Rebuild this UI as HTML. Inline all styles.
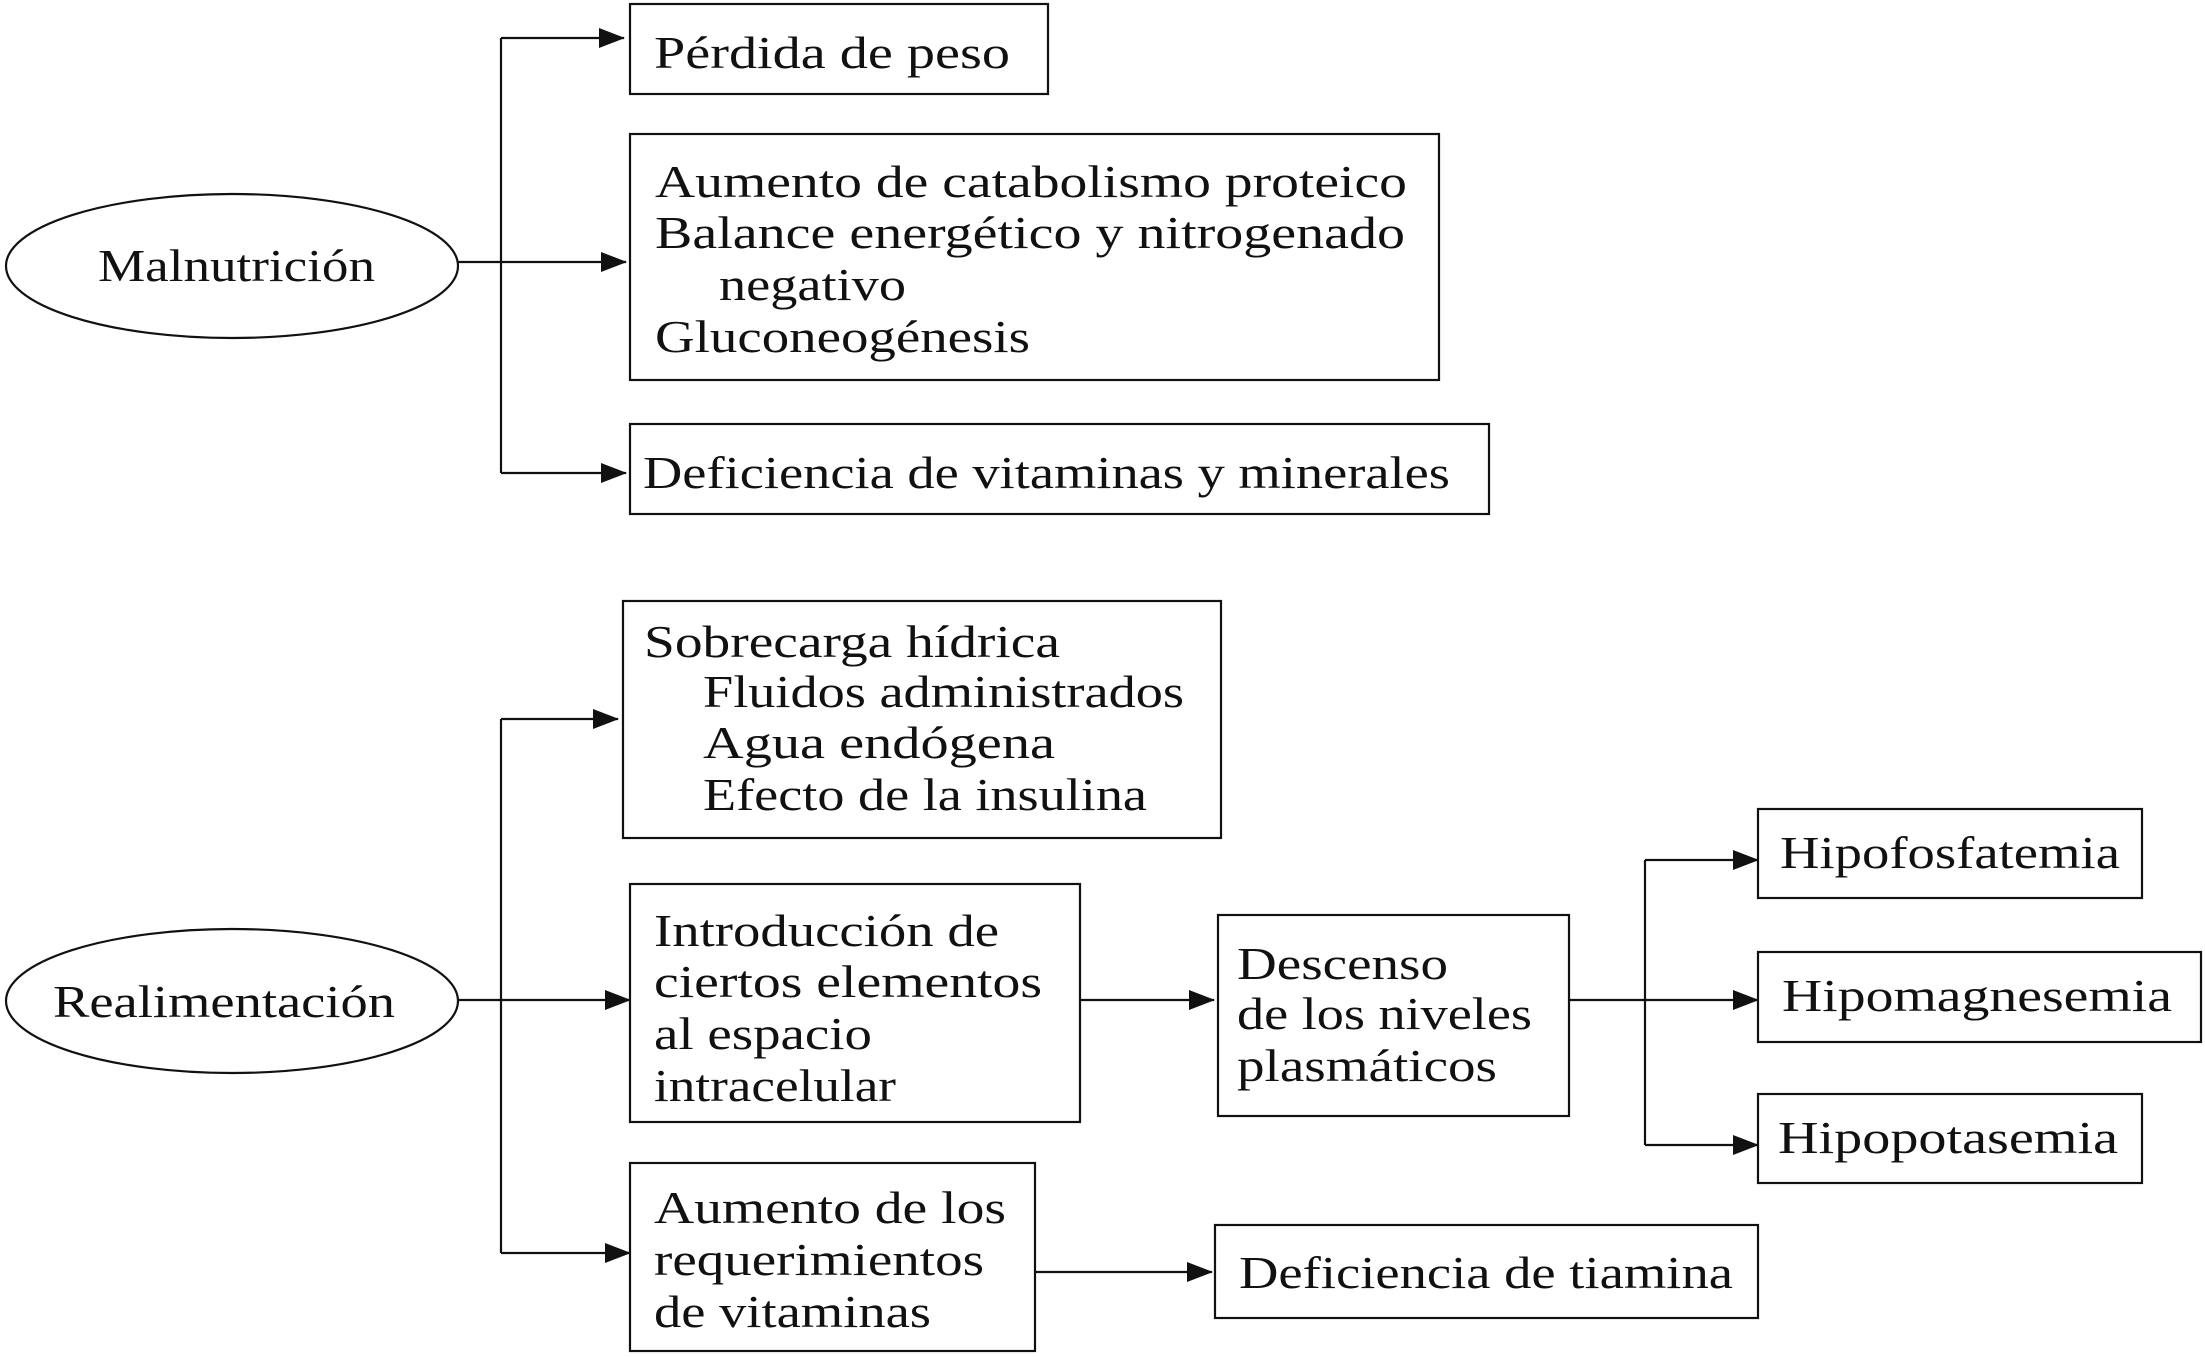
<!DOCTYPE html>
<html><head><meta charset="utf-8"><style>html,body{margin:0;padding:0;background:#fff}svg{display:block}text{font-family:"Liberation Serif",serif;font-size:46px;fill:#111}</style></head><body>
<svg width="2205" height="1357" viewBox="0 0 2205 1357" xmlns="http://www.w3.org/2000/svg">
<defs><marker id="a" markerWidth="12" markerHeight="10" refX="11" refY="5" orient="auto" markerUnits="userSpaceOnUse" viewBox="0 0 12 10"><path d="M0,0 L12,5 L0,10 z" fill="#111"/></marker>
<marker id="b" viewBox="0 0 26 20" markerWidth="26" markerHeight="20" refX="25" refY="10" orient="auto" markerUnits="userSpaceOnUse"><path d="M0,0 L26,10 L0,20 z" fill="#111"/></marker></defs>
<g fill="none" stroke="#111" stroke-width="2.2">
<ellipse cx="232" cy="266" rx="226" ry="72"/>
<ellipse cx="232" cy="1001" rx="226" ry="72"/>
<rect x="630" y="4" width="418" height="90"/>
<rect x="630" y="134" width="809" height="246"/>
<rect x="630" y="424" width="859" height="90"/>
<rect x="623" y="601" width="598" height="237"/>
<rect x="630" y="884" width="450" height="238"/>
<rect x="630" y="1163" width="405" height="188"/>
<rect x="1218" y="915" width="351" height="201"/>
<rect x="1215" y="1225" width="543" height="93"/>
<rect x="1758" y="809" width="384" height="89"/>
<rect x="1758" y="952" width="443" height="90"/>
<rect x="1758" y="1094" width="384" height="89"/>
<path d="M501,38 V473"/><path d="M501,719 V1253"/><path d="M1645,860 V1145"/>
<path d="M458,262 H626" marker-end="url(#b)"/>
<path d="M501,38 H624" marker-end="url(#b)"/>
<path d="M501,473 H626" marker-end="url(#b)"/>
<path d="M501,719 H618" marker-end="url(#b)"/>
<path d="M458,1000 H630" marker-end="url(#b)"/>
<path d="M501,1253 H630" marker-end="url(#b)"/>
<path d="M1080,1000 H1214" marker-end="url(#b)"/>
<path d="M1035,1272 H1212" marker-end="url(#b)"/>
<path d="M1569,1000 H1758" marker-end="url(#b)"/>
<path d="M1645,860 H1758" marker-end="url(#b)"/>
<path d="M1645,1145 H1758" marker-end="url(#b)"/>
</g>
<g lengthAdjust="spacingAndGlyphs">
<text x="98" y="281" textLength="277" lengthAdjust="spacingAndGlyphs">Malnutrición</text>
<text x="53" y="1017" textLength="342" lengthAdjust="spacingAndGlyphs">Realimentación</text>
<text x="654" y="68" textLength="356" lengthAdjust="spacingAndGlyphs">Pérdida de peso</text>
<text x="655" y="197" textLength="752" lengthAdjust="spacingAndGlyphs">Aumento de catabolismo proteico</text>
<text x="655" y="248" textLength="750" lengthAdjust="spacingAndGlyphs">Balance energético y nitrogenado</text>
<text x="719" y="300" textLength="187" lengthAdjust="spacingAndGlyphs">negativo</text>
<text x="655" y="352" textLength="375" lengthAdjust="spacingAndGlyphs">Gluconeogénesis</text>
<text x="643" y="488" textLength="807" lengthAdjust="spacingAndGlyphs">Deficiencia de vitaminas y minerales</text>
<text x="644" y="657" textLength="416" lengthAdjust="spacingAndGlyphs">Sobrecarga hídrica</text>
<text x="703" y="707" textLength="481" lengthAdjust="spacingAndGlyphs">Fluidos administrados</text>
<text x="703" y="758" textLength="352" lengthAdjust="spacingAndGlyphs">Agua endógena</text>
<text x="703" y="810" textLength="444" lengthAdjust="spacingAndGlyphs">Efecto de la insulina</text>
<text x="654" y="946" textLength="345" lengthAdjust="spacingAndGlyphs">Introducción de</text>
<text x="654" y="997" textLength="388" lengthAdjust="spacingAndGlyphs">ciertos elementos</text>
<text x="654" y="1049" textLength="218" lengthAdjust="spacingAndGlyphs">al espacio</text>
<text x="654" y="1101" textLength="242" lengthAdjust="spacingAndGlyphs">intracelular</text>
<text x="654" y="1223" textLength="352" lengthAdjust="spacingAndGlyphs">Aumento de los</text>
<text x="654" y="1275" textLength="330" lengthAdjust="spacingAndGlyphs">requerimientos</text>
<text x="654" y="1327" textLength="277" lengthAdjust="spacingAndGlyphs">de vitaminas</text>
<text x="1237" y="979" textLength="211" lengthAdjust="spacingAndGlyphs">Descenso</text>
<text x="1237" y="1029" textLength="295" lengthAdjust="spacingAndGlyphs">de los niveles</text>
<text x="1237" y="1081" textLength="260" lengthAdjust="spacingAndGlyphs">plasmáticos</text>
<text x="1239" y="1288" textLength="494" lengthAdjust="spacingAndGlyphs">Deficiencia de tiamina</text>
<text x="1780" y="868" textLength="340" lengthAdjust="spacingAndGlyphs">Hipofosfatemia</text>
<text x="1782" y="1011" textLength="390" lengthAdjust="spacingAndGlyphs">Hipomagnesemia</text>
<text x="1778" y="1153" textLength="340" lengthAdjust="spacingAndGlyphs">Hipopotasemia</text>
</g>
</svg>
</body></html>
